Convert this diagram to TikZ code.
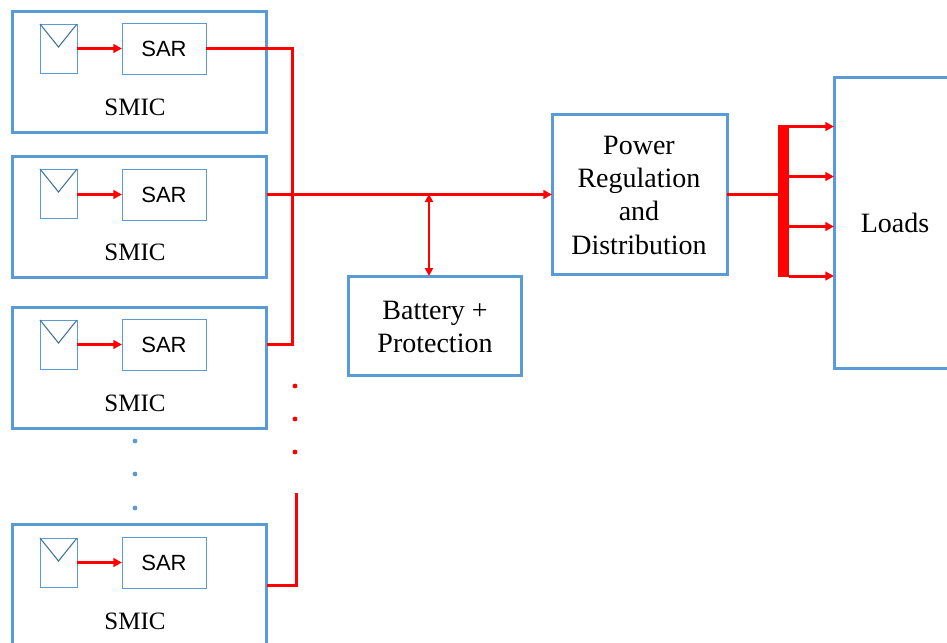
\documentclass[tikz,border=0pt]{standalone}
\usepackage{fontspec}
\setmainfont{Liberation Serif}
\newfontfamily\sarfont{Liberation Sans}
\usetikzlibrary{arrows.meta,calc}
\definecolor{boxblue}{HTML}{5B9BD5}
\definecolor{vblue}{HTML}{41719C}
\definecolor{wirered}{HTML}{FF0000}
\tikzset{
  bigbox/.style={draw=boxblue,line width=2.25pt,fill=none,inner sep=0pt,outer sep=0pt,anchor=north west},
  sarbox/.style={draw=boxblue,line width=0.7pt,inner sep=0pt,outer sep=0pt,minimum width=63pt,minimum height=38.25pt,font=\sarfont\fontsize{16.5}{20}\selectfont},
  panelbox/.style={draw=boxblue,line width=0.7pt,inner sep=0pt,outer sep=0pt,minimum width=27.75pt,minimum height=36.75pt},
  vmark/.style={draw=vblue,line width=0.8pt},
  lbl/.style={inner sep=0pt,font=\fontsize{18.75}{25}\selectfont,align=center},
  biglbl/.style={inner sep=0pt,font=\fontsize{21}{25}\selectfont,align=center},
  wire/.style={draw=wirered,line width=2.25pt},
  wirearrow/.style={wire,-{Triangle[length=6.5pt,width=6.5pt]}},
  twoway/.style={draw=wirered,line width=1.5pt,{Triangle[length=6pt,width=6pt]}-{Triangle[length=6pt,width=6pt]}},
  bluedot/.style={circle,fill=boxblue,inner sep=0pt,minimum size=3.6pt},
  reddot/.style={circle,fill=wirered,inner sep=0pt,minimum size=3.6pt},
}
\begin{document}
\begin{tikzpicture}[x=0.75pt,y=-0.75pt]
\useasboundingbox (0,0) rectangle (947,643);
\clip (0,0) rectangle (947,643);
% SMIC modules
\node[bigbox,minimum width=190.9pt,minimum height=90.75pt] (smic1) at (12,11) {};
\node[bigbox,minimum width=190.9pt,minimum height=90.75pt] (smic2) at (12,156) {};
\node[bigbox,minimum width=190.9pt,minimum height=90.75pt] (smic3) at (12,307) {};
\node[bigbox,minimum width=190.9pt,minimum height=90.75pt] (smic4) at (12,524) {};
\node[lbl] (l1) at (135,107.5) {SMIC};
\node[lbl] (l2) at (135,252.5) {SMIC};
\node[lbl] (l3) at (135,403.5) {SMIC};
\node[lbl] (l4) at (135,621.5) {SMIC};
% SAR + panels
\foreach \n/\ys/\yp/\yv in {1/48.5/48.5/47, 2/194.5/193.5/192, 3/344.5/344.5/343, 4/562.5/562.5/561}{
  \node[sarbox] (sar\n) at (164,\ys) {SAR};
  \node[panelbox] (pv\n) at (58.5,\yp) {};
  \coordinate (v\n) at (58.5,\yv);
  \draw[vmark] (pv\n.north west) -- (v\n) -- (pv\n.north east);
  \draw[wirearrow] (pv\n.east |- sar\n.east) -- (sar\n.west);
}
% main blocks
\node[bigbox,minimum width=129.75pt,minimum height=74.25pt] (batt) at (348,276) {};
\node[biglbl] (battl) at (435,327) {Battery +\\Protection};
\node[bigbox,minimum width=131.25pt,minimum height=120pt] (power) at (552,114) {};
\node[biglbl] (powerl) at (639,195) {Power\\Regulation\\and\\Distribution};
\node[bigbox,minimum width=100pt,minimum height=218.25pt] (loads) at (834,77) {};
\node[biglbl] (loadsl) at (895,223) {Loads};
% bus bar
\node[fill=wirered,inner sep=0pt,outer sep=0pt,minimum width=8.25pt,minimum height=114pt] (bus) at (783.5,201) {};
% wiring
\coordinate (j) at (292,194);
\coordinate (tap) at (429,194);
\draw[wire] (sar1.east) -| (j) -- (j |- sar3.east) -- (smic3.east |- sar3.east);
\draw[wirearrow] (smic2.east |- sar2.east) -- (power.west |- sar2.east);
\draw[twoway] (tap) -- (tap |- batt.north);
\coordinate (end4) at (296,493);
\coordinate (out4) at (267,585);
\draw[wire] (out4) -| (end4);
\draw[wire] (power.east |- sar2.east) -- (bus.west |- sar2.east);
\foreach \n/\y in {1/126.5,2/176.5,3/226.5,4/276}{
  \coordinate (b\n) at (789,\y);
  \draw[wirearrow] (b\n) -- (loads.west |- b\n);
}
% ellipsis dots
\node[reddot] (r1) at (295,386) {};
\node[reddot] (r2) at (295,419) {};
\node[reddot] (r3) at (295,452) {};
\node[bluedot] (d1) at (135,441) {};
\node[bluedot] (d2) at (135,474) {};
\node[bluedot] (d3) at (135,508) {};
\end{tikzpicture}
\end{document}
